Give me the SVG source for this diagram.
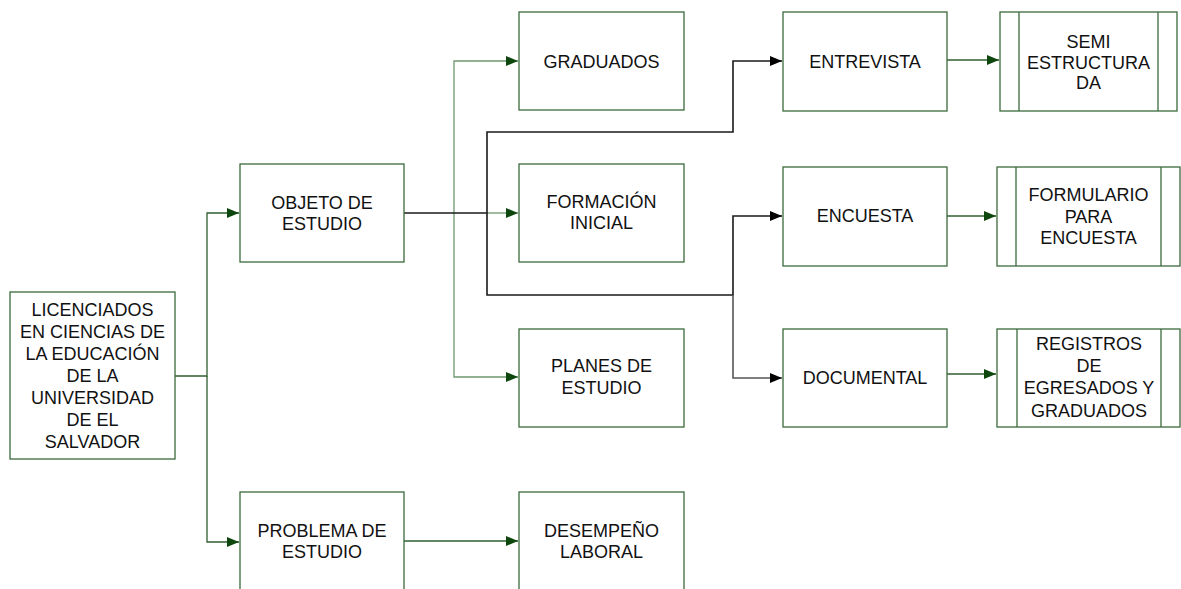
<svg xmlns="http://www.w3.org/2000/svg" width="1181" height="589" viewBox="0 0 1181 589">
<defs>
<style>
.box{fill:#ffffff;stroke:#3b6a3b;stroke-width:1.3}
.in{stroke:#3b6a3b;stroke-width:1.3}
.t{font-family:"Liberation Sans",Arial,sans-serif;font-size:18px;fill:#111111;text-anchor:middle}
.g{fill:none;stroke:#2f5f2f;stroke-width:1.3}
.lg{fill:none;stroke:#6f976f;stroke-width:1.3}
.k{fill:none;stroke:#1a1a1a;stroke-width:1.6}
.gr{fill:none;stroke:#555555;stroke-width:1.6}
</style>
<marker id="ag" markerUnits="userSpaceOnUse" markerWidth="13" markerHeight="12" refX="12" refY="5" orient="auto">
<path d="M0,0 L12,5 L0,10 z" fill="#0e470e"/>
</marker>
<marker id="ak" markerUnits="userSpaceOnUse" markerWidth="13" markerHeight="12" refX="12" refY="5" orient="auto">
<path d="M0,0 L12,5 L0,10 z" fill="#000000"/>
</marker>
</defs>
<rect width="1181" height="589" fill="#ffffff"/>
<g id="connectors">
<path class="g" d="M175,376 H207 V213 H239" marker-end="url(#ag)"/>
<path class="g" d="M207,376 V542 H239" marker-end="url(#ag)"/>
<path class="lg" d="M454,213 V61 H518" marker-end="url(#ag)"/>
<path class="lg" d="M454,213 V377 H518" marker-end="url(#ag)"/>
<path class="lg" d="M487,213 H518" marker-end="url(#ag)"/>
<path class="k" d="M404,213 H487"/>
<path class="k" d="M487,213 V132 H733 V61 H782" marker-end="url(#ak)"/>
<path class="k" d="M487,213 V295 H733 V216 H782" marker-end="url(#ak)"/>
<path class="gr" d="M733,295 V378 H782" marker-end="url(#ak)"/>
<path class="g" d="M404,541 H518" marker-end="url(#ag)"/>
<path class="g" d="M947,60 H999" marker-end="url(#ag)"/>
<path class="g" d="M947,216 H996" marker-end="url(#ag)"/>
<path class="g" d="M947,374 H996" marker-end="url(#ag)"/>
</g>
<g id="n-licenciados">
<rect class="box" x="10" y="292" width="165" height="167"/>
<text class="t" x="92.5" y="316">LICENCIADOS</text>
<text class="t" x="92.5" y="338">EN CIENCIAS DE</text>
<text class="t" x="92.5" y="360">LA EDUCACIÓN</text>
<text class="t" x="92.5" y="382">DE LA</text>
<text class="t" x="92.5" y="404">UNIVERSIDAD</text>
<text class="t" x="92.5" y="426">DE EL</text>
<text class="t" x="92.5" y="448">SALVADOR</text>
</g>
<g id="n-objeto">
<rect class="box" x="240" y="164" width="164" height="98"/>
<text class="t" x="322" y="208.5">OBJETO DE</text>
<text class="t" x="322" y="230">ESTUDIO</text>
</g>
<g id="n-problema">
<rect class="box" x="240" y="492" width="164" height="98"/>
<text class="t" x="322" y="537">PROBLEMA DE</text>
<text class="t" x="322" y="558">ESTUDIO</text>
</g>
<g id="n-graduados">
<rect class="box" x="519" y="12" width="165" height="98"/>
<text class="t" x="601.5" y="67.5">GRADUADOS</text>
</g>
<g id="n-formacion">
<rect class="box" x="519" y="164" width="165" height="98"/>
<text class="t" x="601.5" y="207.5">FORMACIÓN</text>
<text class="t" x="601.5" y="229">INICIAL</text>
</g>
<g id="n-planes">
<rect class="box" x="519" y="329" width="165" height="98"/>
<text class="t" x="601.5" y="372">PLANES DE</text>
<text class="t" x="601.5" y="394">ESTUDIO</text>
</g>
<g id="n-desempeno">
<rect class="box" x="519" y="492" width="165" height="98"/>
<text class="t" x="601.5" y="537">DESEMPEÑO</text>
<text class="t" x="601.5" y="558">LABORAL</text>
</g>
<g id="n-entrevista">
<rect class="box" x="783" y="12" width="164" height="99"/>
<text class="t" x="865" y="67.5">ENTREVISTA</text>
</g>
<g id="n-encuesta">
<rect class="box" x="783" y="167" width="164" height="99"/>
<text class="t" x="865" y="222.3">ENCUESTA</text>
</g>
<g id="n-documental">
<rect class="box" x="783" y="329" width="164" height="98"/>
<text class="t" x="865" y="384.3">DOCUMENTAL</text>
</g>
<g id="n-semi">
<rect class="box" x="1000" y="12" width="177" height="99"/>
<line class="in" x1="1019" y1="12" x2="1019" y2="111"/>
<line class="in" x1="1158" y1="12" x2="1158" y2="111"/>
<text class="t" x="1088.5" y="48">SEMI</text>
<text class="t" x="1088.5" y="68.5">ESTRUCTURA</text>
<text class="t" x="1088.5" y="89.3">DA</text>
</g>
<g id="n-formulario">
<rect class="box" x="997" y="167" width="183" height="99"/>
<line class="in" x1="1016" y1="167" x2="1016" y2="266"/>
<line class="in" x1="1161" y1="167" x2="1161" y2="266"/>
<text class="t" x="1088.5" y="200.7">FORMULARIO</text>
<text class="t" x="1088.5" y="222.5">PARA</text>
<text class="t" x="1088.5" y="244.3">ENCUESTA</text>
</g>
<g id="n-registros">
<rect class="box" x="997" y="329" width="183" height="98"/>
<line class="in" x1="1017" y1="329" x2="1017" y2="427"/>
<line class="in" x1="1161" y1="329" x2="1161" y2="427"/>
<text class="t" x="1089" y="350">REGISTROS</text>
<text class="t" x="1089" y="372.2">DE</text>
<text class="t" x="1089" y="394.4">EGRESADOS Y</text>
<text class="t" x="1089" y="416.7">GRADUADOS</text>
</g>
</svg>
